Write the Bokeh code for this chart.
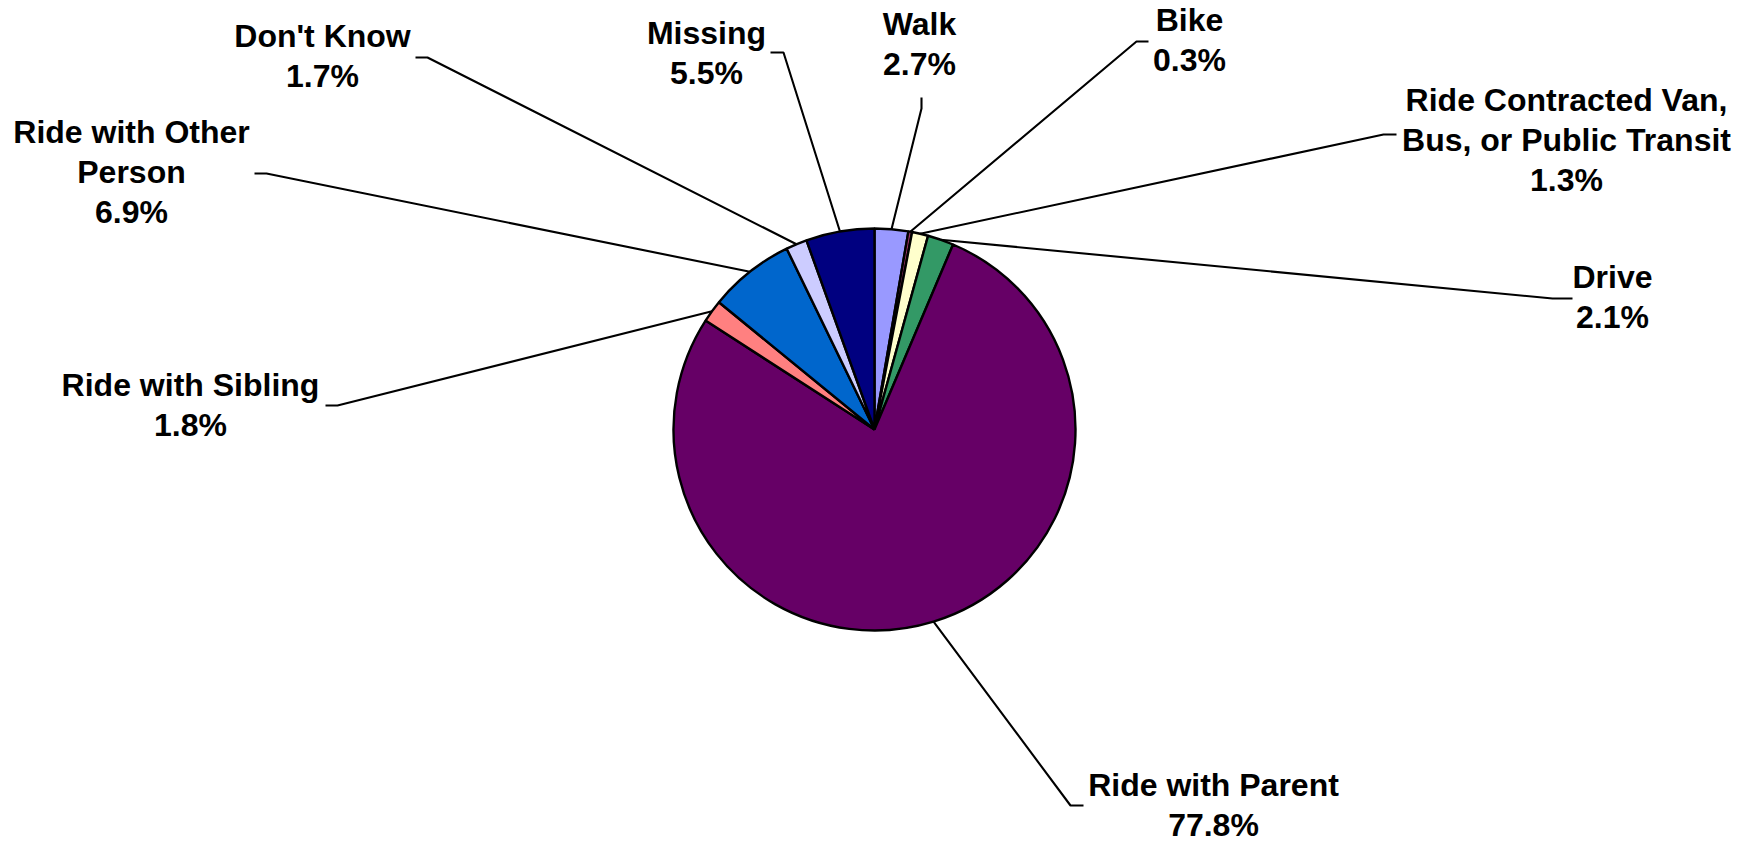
import math
from bokeh.plotting import figure
from bokeh.models import Range1d, ColumnDataSource
from bokeh.core.properties import value
from bokeh.embed import file_html
from bokeh.resources import INLINE

# ---- data ----
categories = ["Walk", "Bike", "Ride Contracted Van,\nBus, or Public Transit", "Drive",
              "Ride with Parent", "Ride with Sibling", "Ride with Other\nPerson",
              "Don't Know", "Missing"]
percents = [2.7, 0.3, 1.3, 2.1, 77.8, 1.8, 6.9, 1.7, 5.5]
colors = ["#9999FF", "#993366", "#FFFFCC", "#339966", "#660066",
          "#FF8080", "#0066CC", "#CCCCFF", "#000080"]

# ---- layout (reference pixel coordinates) ----
W, H = 1751, 843
def X(px):
    return px
def Y(py):
    return H - py

CX, CY, R = 874, 429, 201
label_cx = [919, 1189, 1566, 1612, 1213, 190, 131, 322, 706]
label_first_base = [23, 19, 99, 276, 784, 384, 131, 35, 32]
LINE_GAP = 40
elbow = [(921, 108), (1136, 41), (1383, 134), (1552, 298), (1070, 805),
         (337, 405), (266, 173), (427, 57), (783, 52)]
tail = [(921, 97), (1148, 41), (1396, 134), (1572, 298), (1083, 805),
        (325, 405), (254, 173), (415, 57), (770, 52)]

p = figure(width=W, height=H, output_backend="svg", toolbar_location=None,
           x_range=Range1d(0, W), y_range=Range1d(0, H), min_border=0)
p.axis.visible = False
p.grid.visible = False
p.outline_line_color = None
p.background_fill_color = "white"
p.border_fill_color = "white"

total = sum(percents)
starts, ends, mids = [], [], []
cum = 0.0
for v in percents:
    a0 = math.pi / 2 - 2 * math.pi * cum / total
    cum += v
    a1 = math.pi / 2 - 2 * math.pi * cum / total
    starts.append(a0)
    ends.append(a1)
    mids.append((a0 + a1) / 2)

src = ColumnDataSource(dict(x=[X(CX)] * len(percents), y=[Y(CY)] * len(percents),
                            start=starts, end=ends, color=colors))
p.wedge(x="x", y="y", radius=R, radius_units="screen", start_angle="start",
        end_angle="end", direction="clock", fill_color="color",
        line_color="black", line_width=2.4, source=src)

# leader lines
xs, ys = [], []
for i, m in enumerate(mids):
    ex = CX + R * math.cos(m)
    ey = CY - R * math.sin(m)
    xs.append([X(ex), X(elbow[i][0]), X(tail[i][0])])
    ys.append([Y(ey), Y(elbow[i][1]), Y(tail[i][1])])
p.multi_line(xs=xs, ys=ys, line_color="black", line_width=2.1)

# labels
tx, ty, tt = [], [], []
for i, cat in enumerate(categories):
    lines = cat.split("\n") + [f"{percents[i]:.1f}%"]
    for j, ln in enumerate(lines):
        tx.append(X(label_cx[i]))
        ty.append(Y(label_first_base[i] + j * LINE_GAP))
        tt.append(ln)
p.text(x=tx, y=ty, text=tt, text_align="center", text_baseline="alphabetic",
       text_font=value("Liberation Sans"), text_font_style="bold",
       text_font_size="32px", text_color="black")

open("out.html", "w").write(file_html(p, INLINE))
